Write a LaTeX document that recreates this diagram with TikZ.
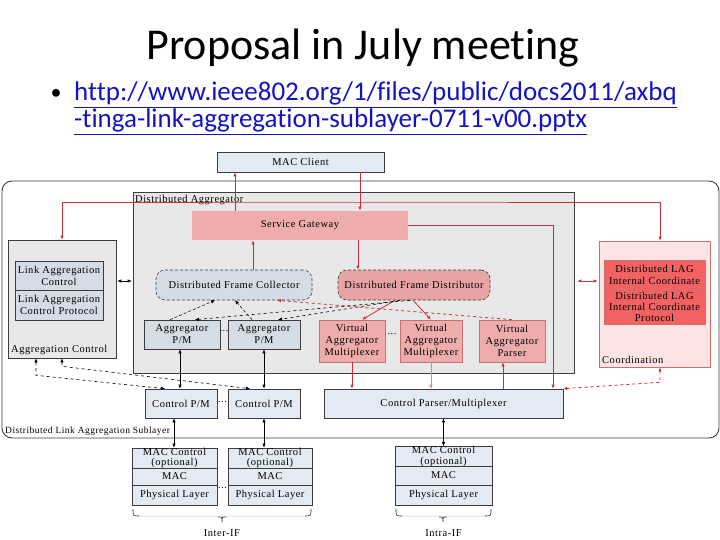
\documentclass[tikz,border=0pt]{standalone}
\usepackage{fontspec}
\setmainfont[LetterSpace=5]{Liberation Serif}
\newfontfamily\titlefont[Ligatures=NoCommon]{Carlito}
\usetikzlibrary{arrows.meta}
\definecolor{lblue}{HTML}{E4EAF4}
\definecolor{gblue}{HTML}{D4DCE6}
\definecolor{lgray}{HTML}{E8E8E8}
\definecolor{pinkb}{HTML}{EFACAC}
\definecolor{pinkd}{HTML}{E8A4A4}
\definecolor{lpink}{HTML}{FDE4E4}
\definecolor{redb}{HTML}{F26262}
\definecolor{rline}{HTML}{C8303A}
\definecolor{bord}{HTML}{3C3C3C}
\definecolor{pbord}{HTML}{C87070}
\definecolor{linkblue}{HTML}{1414C0}
\tikzset{
  tip/.tip={Latex[length=4pt,width=3.4pt]},
  bx/.style={draw=bord,line width=0.6pt,inner sep=0pt,align=center,font=\fontsize{10.5}{12}\selectfont},
  rl/.style={draw=rline,line width=0.8pt},
  rlthin/.style={draw=rline!60,line width=0.5pt},
  bl/.style={draw=black,line width=0.6pt},
  lbl/.style={inner sep=0pt,font=\fontsize{10.5}{12}\selectfont},
}
\begin{document}
\begin{tikzpicture}[x=1pt,y=-1pt]
\useasboundingbox[fill=white] (0,0) rectangle (720,540);
% title and link
\node[inner sep=0pt,anchor=base,font=\titlefont\fontsize{44}{48}\selectfont] (title) at (363,60) {Proposal in July meeting};
\node[inner sep=0pt,anchor=base,font=\titlefont\fontsize{22}{28}\selectfont] (bul) at (56,100) {•};
\node[inner sep=0pt,anchor=base west,text=linkblue,font=\titlefont\fontsize{27}{30}\selectfont] (l1) at (74,101) {\underline{http://www.ieee802.org/1/files/public/docs2011/axbq}};
\node[inner sep=0pt,anchor=base west,text=linkblue,font=\titlefont\fontsize{27}{30}\selectfont] (l2) at (74,128) {\underline{-tinga-link-aggregation-sublayer-0711-v00.pptx}};
% containers
\node[bx,fill=lblue,minimum width=167pt,minimum height=20pt] (mc) at (300.5,162) {MAC Client};
\node[draw=bord,line width=0.9pt,rounded corners=10pt,minimum width=717pt,minimum height=257pt,inner sep=0pt] (dlas) at (360.5,309.5) {};
\node[bx,fill=lgray,minimum width=441pt,minimum height=181pt] (da) at (353.5,282.5) {};
\node[lbl,anchor=west] (dalbl) at (135,200) {Distributed Aggregator};
\node[lbl,anchor=west,font=\fontsize{9.5}{11}\selectfont] (dlaslbl) at (5,431) {Distributed Link Aggregation Sublayer};
\node[bx,fill=lgray,minimum width=108pt,minimum height=118pt] (ac) at (62,299) {};
\node[lbl,anchor=west] (aclbl) at (11,350) {Aggregation Control};
\node[bx,fill=gblue,minimum width=88pt,minimum height=29pt] (lac) at (59,275.5) {Link Aggregation\\Control};
\node[bx,fill=gblue,minimum width=88pt,minimum height=30pt] (lacp) at (59,305) {Link Aggregation\\Control Protocol};
\node[draw=pbord,line width=0.6pt,fill=lpink,minimum width=111pt,minimum height=126pt,inner sep=0pt] (co) at (654.5,304) {};
\node[lbl,anchor=west] (colbl) at (602,360) {Coordination};
\node[bx,draw=pbord,fill=redb,minimum width=101pt,minimum height=30pt] (dlic) at (654.5,275) {Distributed LAG\\Internal Coordinate};
\node[bx,draw=pbord,fill=redb,minimum width=101pt,minimum height=34pt,font=\fontsize{10.5}{11}\selectfont] (dlicp) at (654.5,307) {Distributed LAG\\Internal Coordinate\\Protocol};
% inner boxes
\node[bx,draw=none,fill=pinkb,minimum width=216pt,minimum height=29pt] (sg) at (300,225.5) {Service Gateway};
\node[bx,densely dashed,fill=gblue,rounded corners=9pt,minimum width=156pt,minimum height=30pt] (dfc) at (234,285) {Distributed Frame Collector};
\node[bx,densely dashed,fill=pinkd,rounded corners=9pt,minimum width=152pt,minimum height=30pt] (dfd) at (414,285) {Distributed Frame Distributor};
\node[bx,fill=gblue,minimum width=76pt,minimum height=29pt] (apm1) at (182,334.5) {Aggregator\\P/M};
\node[bx,fill=gblue,minimum width=72pt,minimum height=29pt] (apm2) at (264,334.5) {Aggregator\\P/M};
\node[lbl] (d1) at (224,331) {...};
\node[bx,draw=pbord,fill=pinkb,minimum width=66pt,minimum height=42pt] (vam1) at (352,341) {Virtual\\Aggregator\\Multiplexer};
\node[bx,draw=pbord,fill=pinkb,minimum width=62pt,minimum height=42pt] (vam2) at (431,341) {Virtual\\Aggregator\\Multiplexer};
\node[bx,draw=pbord,fill=pinkb,minimum width=66pt,minimum height=42pt] (vap) at (512,341) {Virtual\\Aggregator\\Parser};
\node[lbl] (d2) at (392,334) {...};
\node[bx,fill=lblue,minimum width=72pt,minimum height=29pt] (cpm1) at (181,403.5) {Control P/M};
\node[bx,fill=lblue,minimum width=72pt,minimum height=29pt] (cpm2) at (264,403.5) {Control P/M};
\node[lbl] (d3) at (222.5,402) {...};
\node[bx,fill=lblue,minimum width=239pt,minimum height=29pt] (cpar) at (443.5,403.5) {Control Parser/Multiplexer};
% stacks
\tikzset{st/.style={bx,fill=lblue,font=\fontsize{10.5}{10.5}\selectfont}}
\node[st,minimum width=85pt,minimum height=20pt] (s1a) at (174.5,458) {MAC Control\\(optional)};
\node[st,minimum width=85pt,minimum height=17pt] (s1b) at (174.5,476.5) {MAC};
\node[st,minimum width=85pt,minimum height=20pt] (s1c) at (174.5,495) {Physical Layer};
\node[st,minimum width=84pt,minimum height=20pt] (s2a) at (270,458) {MAC Control\\(optional)};
\node[st,minimum width=84pt,minimum height=17pt] (s2b) at (270,476.5) {MAC};
\node[st,minimum width=84pt,minimum height=20pt] (s2c) at (270,495) {Physical Layer};
\node[lbl] (d4) at (222.5,488) {...};
\node[st,minimum width=97pt,minimum height=19pt] (s3a) at (443.5,456.5) {MAC Control\\(optional)};
\node[st,minimum width=97pt,minimum height=19pt] (s3b) at (443.5,475.5) {MAC};
\node[st,minimum width=97pt,minimum height=20pt] (s3c) at (443.5,495) {Physical Layer};
% braces
\draw[gray!45,line width=0.5pt] (133,509) .. controls (133,516) .. (139,516) -- (216,516) .. controls (222,516) .. (222,522) .. controls (222,516) .. (228,516) -- (305,516) .. controls (311,516) .. (311,509);
\draw[bord,line width=0.6pt] (133,509) .. controls (133,516) .. (139,516);
\draw[bord,line width=0.6pt] (311,509) .. controls (311,516) .. (305,516);
\draw[bord,line width=0.6pt] (218,517) .. controls (222,517) .. (222,522) .. controls (222,517) .. (226,517);
\draw[gray!45,line width=0.5pt] (396,509) .. controls (396,516) .. (402,516) -- (437,516) .. controls (443,516) .. (443,522) .. controls (443,516) .. (449,516) -- (485,516) .. controls (491,516) .. (491,509);
\draw[bord,line width=0.6pt] (396,509) .. controls (396,516) .. (402,516);
\draw[bord,line width=0.6pt] (491,509) .. controls (491,516) .. (485,516);
\draw[bord,line width=0.6pt] (439,517) .. controls (443,517) .. (443,522) .. controls (443,517) .. (447,517);
\node[lbl] (inter) at (222,533) {Inter-IF};
\node[lbl] (intra) at (443.5,533) {Intra-IF};
% helper coordinates
\foreach \xx in {36,62,165,170,174,180,195,215,235,250,252,253,264,277,278,358,360,362,395,400,410,413,503,553,660}
  \coordinate (c\xx) at (\xx,0);
\coordinate (y281) at (0,281);
\coordinate (tl) at (360,202);
% red connectors
\draw[rl,-tip] (sg.north -| c235) -- (mc.south -| c235);
\draw[rl,-tip] (mc.south -| c360) -- (sg.north -| c360);
\draw[rl,tip-tip] (ac.north) |- (tl) -| (co.north -| c660);
\draw[rl,-tip] (sg.east) -| (cpar.north -| c553);
\draw[rl,-tip] (sg.south -| c358) -- (dfd.north -| c358);
\draw[rl,-tip] (dfc.north -| c253) -- (sg.south -| c253);
\draw[rl,-tip] (dfd.south -| c395) -- (vam1.north -| c362);
\draw[rl,-tip] (dfd.south -| c413) -- (vam2.north);
\draw[rl,-tip] (vam1.south) -- (cpar.north -| vam1.south);
\draw[rlthin,-tip] (vam2.south) -- (cpar.north -| vam2.south);
\draw[rl,-tip] (cpar.north -| c503) -- (vap.south -| c503);
\draw[rl,tip-tip,shorten <=3pt,shorten >=1pt] (da.east |- y281) -- (co.west |- y281);
\draw[rl,dashed,tip-tip] (co.south -| c660) -- ++(0,15) -- (cpar.north east);
\draw[rl,dashed,-tip] (vap.north) -- (dfc.south -| c277);
% black connectors
\draw[bl,tip-tip,shorten <=1pt,shorten >=1pt] (ac.east |- y281) -- (da.west |- y281);
\draw[bl,tip-tip] (apm1.south -| c180) -- (cpm1.north -| c180);
\draw[bl,tip-tip] (apm2.south) -- (cpm2.north);
\draw[bl,tip-tip] (cpm1.south -| c174) -- (s1a.north -| c174);
\draw[bl,tip-tip] (cpm2.south) -- (s2a.north -| c264);
\draw[bl,tip-tip] (cpar.south) -- (s3a.north);
\draw[bl,line width=0.5pt,densely dashed,-tip] (apm1.north -| c170) -- (dfc.south -| c215);
\draw[bl,line width=0.5pt,densely dashed,-tip] (apm2.north -| c252) -- (dfc.south -| c235);
\draw[bl,dashed,-tip] (dfd.south -| c410) -- (apm1.north -| c195);
\draw[bl,dashed,-tip] (dfd.south -| c400) -- (apm2.north -| c278);
\draw[bl,dashed,tip-tip] (ac.south -| c36) -- ++(0,17) -- (cpm1.north -| c165);
\draw[bl,dashed,tip-tip] (ac.south -| c62) -- ++(0,8) -- (cpm2.north -| c250);
\end{tikzpicture}
\end{document}
